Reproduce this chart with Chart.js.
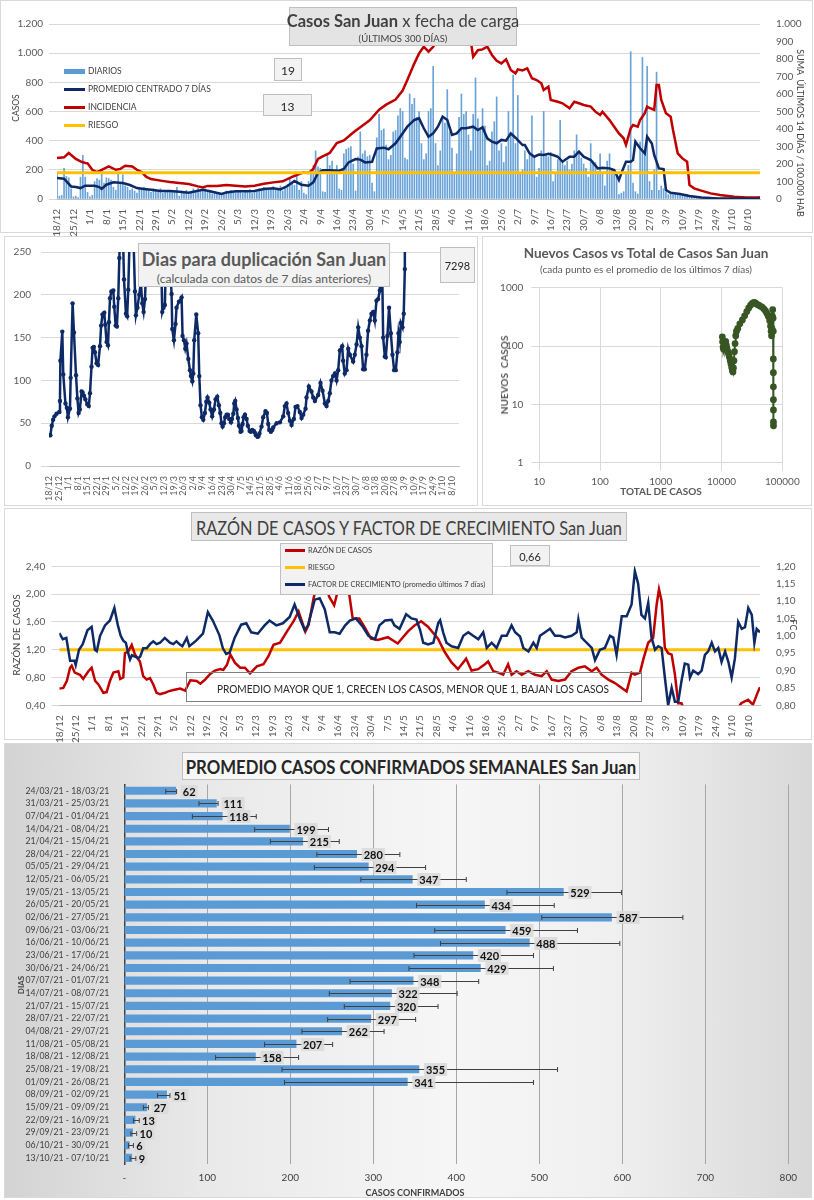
<!DOCTYPE html>
<html lang="es">
<head>
<meta charset="utf-8">
<title>Casos San Juan</title>
<script src="https://cdn.jsdelivr.net/npm/chart.js@4.4.1/dist/chart.umd.min.js"></script>
<style>
  html, body { margin: 0; padding: 0; background: #fff; }
  body { width: 814px; height: 1200px; position: relative; overflow: hidden; font-family: Lato, "Open Sans", sans-serif; color: #404040; }
  .marco { position: absolute; border: 1px solid #d9d9d9; box-sizing: border-box; }
  .lienzo { position: absolute; }
  .txt { position: absolute; white-space: nowrap; transform: translate(-50%, -50%); }
  .caja { position: absolute; box-sizing: border-box; border: 1px solid #bfbfbf; background: #f2f2f2; }
  .arriba { position: absolute; white-space: nowrap; writing-mode: vertical-rl; transform: translate(-50%, -50%) rotate(180deg); }
  .abajo { position: absolute; white-space: nowrap; writing-mode: vertical-rl; transform: translate(-50%, -50%); }
  .ley { position: absolute; white-space: nowrap; display: flex; align-items: center; }
  .ley i { display: inline-block; margin-right: 3px; }
</style>
</head>
<body>

<!-- marcos -->
<div class="marco" style="left:0;top:0;width:813px;height:233px"></div>
<div class="marco" style="left:4px;top:236px;width:474px;height:270px"></div>
<div class="marco" style="left:482px;top:236px;width:330px;height:270px"></div>
<div class="marco" style="left:4px;top:508px;width:808px;height:232px"></div>
<div class="marco" style="left:4px;top:743px;width:808px;height:455px;background:linear-gradient(90deg,#d3d3d3 0%,#e9e9e9 25%,#f6f6f6 55%,#f0f0f0 75%,#d8d8d8 100%)"></div>

<div class="lienzo" style="left:0;top:0;width:814px;height:242px"><canvas id="casos"></canvas></div>
<div class="lienzo" style="left:4px;top:236px;width:474px;height:276px"><canvas id="duplicacion"></canvas></div>
<div class="lienzo" style="left:482px;top:236px;width:330px;height:270px"><canvas id="nuevos"></canvas></div>
<div class="lienzo" style="left:4px;top:508px;width:808px;height:240px"><canvas id="razon"></canvas></div>
<div class="lienzo" style="left:4px;top:743px;width:808px;height:455px"><canvas id="semanal"></canvas></div>

<!-- grafico 1 -->
<div class="caja" style="left:289px;top:7px;width:228px;height:39px;background:#e4e4e4"></div>
<div class="txt" style="left:403px;top:21px;font-size:16.5px;color:#404040"><b>Casos San Juan</b> x fecha de carga</div>
<div class="txt" style="left:403px;top:38px;font-size:9.5px;color:#404040">(ÚLTIMOS 300 DÍAS)</div>
<div class="caja" style="left:274px;top:58px;width:28px;height:23px"></div>
<div class="txt" style="left:288px;top:70px;font-size:12px;color:#262626">19</div>
<div class="caja" style="left:263px;top:94px;width:49px;height:22px"></div>
<div class="txt" style="left:287.5px;top:105.5px;font-size:12px;color:#262626">13</div>
<div class="ley" style="left:64px;top:66px;font-size:8.5px"><i style="width:21px;height:5px;background:#5b9bd5"></i>DIARIOS</div>
<div class="ley" style="left:64px;top:84px;font-size:8.5px"><i style="width:21px;height:3px;background:#0e2a66"></i>PROMEDIO CENTRADO 7 DÍAS</div>
<div class="ley" style="left:64px;top:102px;font-size:8.5px"><i style="width:21px;height:3px;background:#c00000"></i>INCIDENCIA</div>
<div class="ley" style="left:64px;top:120px;font-size:8.5px"><i style="width:21px;height:3px;background:#ffc000"></i>RIESGO</div>
<div class="arriba" style="left:16px;top:108px;font-size:8.5px">CASOS</div>
<div class="abajo" style="left:800px;top:133px;font-size:9px">SUMA&nbsp; ÚLTIMOS 14 DÍAS / 100.000 HAB</div>

<!-- grafico 2 -->
<div class="caja" style="left:138px;top:243px;width:252px;height:44px"></div>
<div class="txt" style="left:264px;top:259px;font-size:18px;font-weight:bold;color:#595959">Dias para duplicación San Juan</div>
<div class="txt" style="left:264px;top:278px;font-size:12px;color:#595959">(calculada con datos de 7 días anteriores)</div>
<div class="caja" style="left:440px;top:247px;width:35px;height:36px"></div>
<div class="txt" style="left:457.5px;top:265px;font-size:11px;color:#262626">7298</div>

<!-- grafico 3 -->
<div class="txt" style="left:646px;top:253px;font-size:13.5px;font-weight:bold;color:#595959">Nuevos Casos vs Total de Casos San Juan</div>
<div class="txt" style="left:646px;top:269px;font-size:10px;color:#595959">(cada punto es el promedio de los últimos 7 días)</div>
<div class="arriba" style="left:504px;top:375px;font-size:10px;font-weight:bold;color:#595959">NUEVOS&nbsp; CASOS</div>
<div class="txt" style="left:661px;top:491px;font-size:10px;font-weight:bold;color:#595959">TOTAL DE CASOS</div>

<!-- grafico 4 -->
<div class="caja" style="left:191px;top:512px;width:436px;height:29px;background:#e8e8e8"></div>
<div class="txt" style="left:409px;top:527px;font-size:19px;color:#404040;transform:translate(-50%,-50%) scaleX(0.86)">RAZÓN DE CASOS Y FACTOR DE CRECIMIENTO San Juan</div>
<div class="caja" style="left:280px;top:543px;width:213px;height:52px"></div>
<div class="ley" style="left:285px;top:546px;font-size:7.5px"><i style="width:20px;height:3px;background:#c00000"></i>RAZÓN DE CASOS</div>
<div class="ley" style="left:285px;top:563px;font-size:7.5px"><i style="width:20px;height:3px;background:#ffc000"></i>RIESGO</div>
<div class="ley" style="left:285px;top:580px;font-size:7.5px"><i style="width:20px;height:3px;background:#0e2a66"></i>FACTOR DE CRECIMIENTO (promedio últimos 7 días)</div>
<div class="caja" style="left:510px;top:545px;width:40px;height:21px"></div>
<div class="txt" style="left:530px;top:555.5px;font-size:11px;color:#262626">0,66</div>
<div class="caja" style="left:186px;top:672px;width:456px;height:30px;background:transparent;border-color:#7f7f7f"></div>
<div class="txt" style="left:413px;top:688px;font-size:12px;color:#262626;transform:translate(-50%,-50%) scaleX(0.84)">PROMEDIO MAYOR QUE 1, CRECEN LOS CASOS, MENOR QUE 1, BAJAN LOS CASOS</div>
<div class="arriba" style="left:16px;top:635px;font-size:9.5px">RAZÓN DE CASOS</div>
<div class="abajo" style="left:793px;top:625px;font-size:9px">FC</div>

<!-- grafico 5 -->
<div class="caja" style="left:182px;top:752px;width:458px;height:28px;background:#f7f7f7"></div>
<div class="txt" style="left:411px;top:766.5px;font-size:18px;font-weight:bold;color:#262626;transform:translate(-50%,-50%) scaleX(0.93)">PROMEDIO CASOS CONFIRMADOS SEMANALES San Juan</div>
<div class="arriba" style="left:21px;top:985px;font-size:8px;font-weight:bold">DIAS</div>
<div class="txt" style="left:415px;top:1192px;font-size:9px;font-weight:bold">CASOS CONFIRMADOS</div>

<script>
// ---- datos ----
// eje de fechas: dia 0 = 18/12/2020, una etiqueta cada 7 dias
const fechaTicks = ['18/12','25/12','1/1','8/1','15/1','22/1','29/1','5/2','12/2','19/2','26/2','5/3','12/3','19/3','26/3','2/4','9/4','16/4','23/4','30/4','7/5','14/5','21/5','28/5','4/6','11/6','18/6','25/6','2/7','9/7','16/7','23/7','30/7','6/8','13/8','20/8','27/8','3/9','10/9','17/9','24/9','1/10','8/10'];

// casos diarios (un valor por dia, 300 dias)
const diarios = [
  170,20,25,210,155,145,70, 15,20,10,150,300,150,45, 15,25,120,140,130,200,110, 145,140,130,80,60,175,110,
  165,90,80,60,70,55,40, 75,60,80,70,55,45,70, 65,50,70,40,60,55,45, 50,45,80,20,55,40,60,
  30,45,70,50,75,60,55, 70,45,60,35,50,40,45, 30,35,55,40,60,45,50, 55,60,40,45,50,65,40,
  55,45,70,60,80,75,65, 70,85,60,75,90,55,80, 100,140,110,95,170,60,120, 40,30,120,170,230,330,220,
  210,50,45,300,230,260,170, 230,70,60,310,340,350,360, 240,55,290,460,310,330,290, 300,110,50,420,580,470,480,
  370,270,300,460,470,570,620, 600,280,270,720,650,690,560, 600,380,270,310,600,620,910, 380,230,330,560,520,750,460,
  350,170,310,560,720,580,600, 440,330,580,830,550,470,620, 500,230,260,460,530,700,330, 380,250,360,600,430,850,380,
  710,180,200,330,270,300,570, 280,150,210,330,600,300,290, 320,120,180,270,540,250,230, 260,200,240,330,440,310,280,
  240,210,150,380,260,250,190, 310,170,90,260,310,210,170, 170,30,40,50,180,230,1010, 110,50,35,390,970,310,910,
  120,60,200,870,60,90,70, 50,30,40,30,35,25,30, 25,20,30,15,20,18,12, 10,15,8,12,14,10,9,
  7,10,6,9,8,5,7, 5,8,6,4,7,5,6, 9,6,12,8,10,9
];

// promedio centrado 7 dias (dia, casos)
const promDias = [0,3,6,8,10,12,14,16,18,19, 21,24,28,31,34,37,40,44,48,52, 56,60,62,66,70,72,76,80,84,88,
  92,95,98,101,104,107,109,111,113,116, 120,122,124,127,129,131,134,136,139,141, 144,146,149,152,154,156,158,160,162,164,
  166,168,170,172,174,177,179,181,183,185, 187,189,191,193,195,198,199,201,203,205, 207,209,211,213,215,218,220,222,224,227,
  230,232,235,237,239,240,242,244,245,246, 248,250,251,253,254,256,258,259,261,265, 269,274,281,290,299];
const promedio = [144,139,86,82,75,91,91,91,82,69, 98,114,110,96,75,69,64,55,55,50, 43,57,64,50,34,45,53,53,55,69,
  73,66,89,123,98,91,114,178,197,197, 194,206,251,274,270,251,255,347,352,341, 382,427,496,542,553,485,427,450,496,565,
  542,439,450,485,485,496,473,492,416,393, 382,405,400,450,420,370,370,313,290,305, 302,310,302,290,256,290,290,325,290,267,
  210,215,210,199,130,176,256,256,267,393, 348,313,427,380,302,210,205,62,43,34, 21,10,4,3,2];

// incidencia: suma 14 dias / 100.000 hab (dia, valor)
const incDias = [0,3,5,8,10,12,13,15,17,19, 22,25,27,29,32,34,36,38,40,44, 48,52,56,60,62,64,68,72,76,80,
  84,88,92,96,100,103,105,107,109,111, 113,116,119,122,126,130,133,137,140,144, 147,149,152,154,156,158,160,162,164,166,
  168,170,172,174,176,177,179,181,183,185, 187,189,191,193,195,196,198,200,202,204, 206,207,209,210,213,215,218,220,222,224,
  227,229,231,232,235,237,239,241,242,244, 245,247,248,250,251,252,254,255,256,257, 259,261,262,264,266,268,269,271,274,278,
  282,288,293,298,299];
const incidencia = [234,238,263,229,215,206,204,167,154,167, 186,167,172,190,186,167,154,126,114,105, 97,91,86,72,66,75,75,80,76,72,
  76,87,95,101,126,143,152,149,171,229, 244,263,320,335,380,420,450,510,539,568, 620,680,775,832,870,842,870,918,980,1000,
  940,890,920,960,900,813,850,855,870,823, 790,775,798,737,718,741,735,747,690,680, 661,623,642,566,556,547,518,556,547,537,
  528,499,480,499,451,413,375,347,309,404, 423,413,451,490,528,520,509,651,651,566, 490,470,394,261,232,213,80,61,48,32,
  23,13,8,8,10];
const riesgoIncidencia = 150;

// dias para duplicacion (dia, dias)
const dupDias = [0,1,2,3,4,5.5,7.5,8,8.3,9.7, 10.4,12,13,13.8,15.3,15.8,17.2,18.2,19.7,20.7, 21.6,22.5,23.8,24.5,25.5,26.5,27.9,29,29.9,31,
  31.8,32.7,33.5,34.7,35.8,37.2,38,39,40.3,41, 42,43,43.7,44.5,45.5,46.9,47.6,48.6,49.5,50.5, 51.3,52.2,53.2,54.7,56.1,57,57.8,59,60,61,
  62.7,63.4,64.5,65.8,67,68,69,70,71,73, 76,79,81,82.6,83.5,84.5,85.5,87,89.4,89.9, 91.1,92.3,93,94.8,96.7,97.4,98.4,99.4,100.3,101.6,
  102.8,103.5,104.5,105.2,105.9,107.4,108.8,109.6,110.5,111.5, 112.5,113.7,114.7,115.6,116.9,117.8,119,120.3,121.5,122.7,
  123.9,124.9,125.8,126.6,127.6,128.5,129.5,130.5,131.4,132.7, 133.4,134.4,135.1,135.8,136.8,137.8,138.5,139.7,140.4,141.2,
  141.9,142.9,144.1,145,146.3,147.2,148.2,149.4,150.1,150.9, 152.1,152.8,153.5,155,156.2,157.9,158.9,159.9,160.6,161.8,
  162.8,163.5,166,168.4,170.8,172,173.2,174.4,175.7,176.9, 178.6,179.8,181.2,182.9,184.2,185.4,187.1,187.8,189.5,191.4,
  192.7,193.9,196.3,198,199.5,201.2,202.4,203.6,204.8,206, 207.2,208.5,209.7,210.9,212.1,213.8,214.5,215.7,217,218.2,
  219.4,221.8,223,224.3,225.5,226.7,227.9,229.1,230.3,231.5, 232.7,234,235.2,236.4,237.6,238.8,240,241.3,242,242.6,
  243.7,244.9,245.6,246.8,248,249.3,250.5,251.7,252.9,254.1, 254.9,255.8,256.6,257.8,258.7,259.5,260.2];
const duplicacion = [36,36,47,54,58,61,63,76,123,157, 107,73,68,57,67,103,190,156,106,79, 62,66,87,86,82,78,72,70,85,116,
  138,139,133,120,118,140,164,177,179,165, 145,141,168,196,204,205,186,164,163,196, 243,290,320,218,178,175,206,280,340,300,
  204,176,185,200,215,190,180,195,240,300, 380,420,300,180,185,188,260,280,201,160, 147,166,185,192,197,152,147,137,143,125,
  112,105,99,108,147,177,155,105,71,57, 54,62,75,80,74,66,58,66,78,81,
  71,62,50,46,50,57,60,60,55,51, 55,61,73,76,66,56,47,40,41,49,
  57,60,55,47,41,40,42,41,39,36, 34,35,38,46,57,64,62,49,42,40,
  42,45,50,51,58,70,73,62,53,48, 55,69,70,63,56,60,67,80,93,87,
  80,76,83,97,88,73,70,76,85,100, 105,108,100,112,135,140,123,108,112,137,
  130,122,130,142,162,150,140,113,113,130, 158,170,178,180,170,193,195,205,290,270,
  150,128,127,152,185,155,130,112,112,133, 155,145,167,162,178,230,7298];

// nuevos casos vs total (promedio 7 dias)
const totalCasos = [10300,10400,10600,10800,11100,11400,11700,12000,12300,12700, 13100,13500,13900,14300,14700,15100,15400,15700,16000,16300,
  16700,17100,17600,18500,20000,22000,24000,26000,28000,30000, 32000,34000,36000,38000,41000,44000,47000,50000,53000,56000,
  59000,62000,64000,65500,66500,67500,68500,69500,70500,71000, 71200,71300,71400,71450,71500,71550,71600];
const nuevosCasos = [144,118,96,88,100,112,120,104,90,80, 72,64,56,49,43,38,36,42,56,80,
  110,150,180,200,240,280,330,390,450,500, 540,560,550,520,500,480,460,430,400,360,
  320,270,220,180,150,200,330,420,300,180, 60,35,20,12,8,5,4.3];

// razon de casos (dia, razon)
const razonDias = [0,1.7,3.2,4.6,5.3,6.6,8.8,10.2,12.4,13.8, 15.3,16.7,18.8,20.2,21.6,23.1,25.2,26,27.3,28,
  29.5,30.9,32.3,34.4,35.8,37.3,38.7,40.1,41.5,43, 45.1,46.5,48.7,51.6,53.7,55.9,58.6,60.2,62.2,64.4,
  66.4,68.7,70,71.5,73,75,77.2,79.2,81.4,84.3, 87.1,89.3,91.4,94.2,97.1,100,102.1,105,106.4,108.5,
  110,112,114,115.2,117.3,118.5,120,121.6,123.7,125.2, 128,130.2,133,135.9,140.2,144.4,148.7,151.6,154.4,157.3,
  161.6,164.4,167.3,170.1,173.6,175.9,178.7,181.6,183,185.2, 187.3,189.4,191.5,193,195.1,197.3,200.1,203,205.8,208,
  210.1,212.9,215.8,218.6,221.5,224.3,227.2,229.3,231.4,234.3, 237.1,240,242.1,244.2,245.6,247.8,249.2,251.3,253.4,254.9,
  255.9,257,258.4,259.8,261.3,262.7,264.1,265.5,267,275, 285,290,291,293.9,296,298.2,299];
const razon = [0.64,0.65,0.75,0.94,0.97,0.87,0.84,0.78,0.89,0.94, 0.75,0.70,0.58,0.59,0.75,0.87,0.89,0.78,0.80,1.15,
  1.18,1.27,1.13,1.03,0.82,0.77,0.79,0.70,0.58,0.56, 0.58,0.60,0.62,0.64,0.61,0.76,0.75,0.71,0.77,0.85,
  0.90,0.92,0.91,0.98,1.13,1.01,0.94,0.94,0.86,0.96, 0.99,1.11,1.27,1.30,1.46,1.61,1.75,1.46,1.56,1.94,
  2.15,2.35,2.10,1.96,1.84,2.00,2.30,2.10,2.00,1.65, 1.65,1.53,1.36,1.34,1.38,1.29,1.46,1.55,1.61,1.53,
  1.36,1.17,1.02,0.92,1.07,0.90,0.92,0.99,1.03,0.89, 0.87,0.84,0.99,0.84,0.89,0.84,0.89,0.84,0.82,0.89,
  0.77,0.75,0.77,0.89,0.94,0.96,0.89,0.94,0.84,0.77, 0.72,0.65,0.60,0.87,0.84,0.87,1.06,1.30,1.37,1.85,
  2.07,1.90,1.23,1.15,1.13,0.84,0.43,0.43,0.30,0.25, 0.28,0.38,0.43,0.48,0.41,0.60,0.66];
const riesgoRazon = 1.2;

// factor de crecimiento, promedio ultimos 7 dias (dia, FC)
const fcDias = [0,1.5,3,4.6,6.5,7,8.4,10,12,13.8, 15.2,16,17.4,19.5,21.6,23.5,25,26.2,27.3,28.4,
  29.4,30.2,31,32.3,33.7,34.5,35.8,37.3,38.7,40.1, 41.5,43,45,47.2,48.6,50,51.6,52.5,54.4,55.5,
  58.4,61.3,63.4,65.5,68.3,69.8,71.2,72.7,74.8,77.6, 79.8,81.9,84.7,87.6,89.7,92.6,95.4,98.3,100.4,102.6,
  104.7,106.1,107.6,109,111.1,113.3,115.4,117.5,119.6,122, 124,126.6,129.5,131.9,134.7,136.6,139,141.8,143,145.2,
  148,150.3,152.4,153.9,155.3,157.4,159.6,161.7,162.5,163.8, 165.2,167.4,170.2,172.4,174.5,176.6,178.8,180.9,182.4,184.5,
  186.6,188.8,190.9,193,194.5,196.6,198,200.2,202.3,203.7, 205.1,207.3,209.4,211.5,213.7,215.8,218.6,220.8,221.5,222.9,
  225,227.2,228.6,230.7,232.8,235,236.4,237.8,240,242.1, 244.2,245.6,247,248.4,249.9,251.3,252.7,254.2,255.6,257,
  258.4,259.8,261.3,262.7,264.1,265.5,266.9,268.4,269.1,270.5, 272.6,274.1,275.5,276.9,278.4,279.8,281.2,282.6,284.1,285.5,
  286.9,288.3,289.7,291.2,292.6,294,295.5,296.6,297.6,299];
const fc = [1.008,0.99,0.994,0.928,0.928,0.916,0.96,0.976,1.016,1.026, 0.96,0.956,1.0,1.03,1.044,1.08,1.03,1.0,0.986,0.98,
  0.95,0.932,0.944,0.94,0.936,0.94,0.964,0.964,0.976,0.984, 0.976,0.98,0.994,0.98,0.976,0.984,0.974,0.97,0.994,0.97,
  0.986,1.006,1.068,1.044,1.002,0.964,0.948,0.952,0.994,1.032, 1.036,1.01,1.006,1.03,1.044,1.03,1.036,1.054,1.09,1.05,
  1.016,1.03,1.068,1.104,1.108,1.076,1.01,1.01,1.006,1.03, 1.044,1.05,1.026,1.0,0.99,1.03,1.044,1.046,1.03,1.02,
  1.062,1.05,1.047,1.018,0.98,0.975,0.98,1.037,1.045,1.01, 0.98,0.97,0.965,1.0,1.01,1.0,0.99,1.01,0.965,0.98,
  0.965,1.0,1.0,1.03,1.01,0.998,0.965,0.955,0.98,0.965, 1.0,1.01,1.02,1.0,1.0,0.995,1.0,1.01,1.047,0.995,
  0.98,0.965,0.93,0.96,0.965,1.0,0.995,0.945,1.056,1.056, 1.09,1.186,1.15,1.06,1.05,1.095,0.995,0.96,0.97,0.965,
  0.88,0.80,0.85,0.81,0.81,0.87,0.92,0.917,0.88,0.90, 0.89,0.90,0.945,0.955,0.98,0.955,0.965,0.925,0.955,0.925,
  0.88,0.935,1.04,1.02,1.025,1.08,1.06,0.98,1.02,1.01];

// promedio semanal de casos confirmados
const semanas = ['24/03/21 - 18/03/21','31/03/21 - 25/03/21','07/04/21 - 01/04/21','14/04/21 - 08/04/21','21/04/21 - 15/04/21',
  '28/04/21 - 22/04/21','05/05/21 - 29/04/21','12/05/21 - 06/05/21','19/05/21 - 13/05/21','26/05/21 - 20/05/21',
  '02/06/21 - 27/05/21','09/06/21 - 03/06/21','16/06/21 - 10/06/21','23/06/21 - 17/06/21','30/06/21 - 24/06/21',
  '07/07/21 - 01/07/21','14/07/21 - 08/07/21','21/07/21 - 15/07/21','28/07/21 - 22/07/21','04/08/21 - 29/07/21',
  '11/08/21 - 05/08/21','18/08/21 - 12/08/21','25/08/21 - 19/08/21','01/09/21 - 26/08/21','08/09/21 - 02/09/21',
  '15/09/21 - 09/09/21','22/09/21 - 16/09/21','29/09/21 - 23/09/21','06/10/21 - 30/09/21','13/10/21 - 07/10/21'];
const promSemanal = [62,111,118,199,215,280,294,347,529,434,587,459,488,420,429,348,322,320,297,262,207,158,355,341,51,27,13,10,6,9];
const minSemanal = [50,90,82,157,176,232,229,285,461,352,503,374,381,349,343,272,247,265,245,214,169,110,190,193,40,23,11,8,5,7];
const maxSemanal = [63,113,159,246,259,332,363,412,599,518,673,546,597,493,517,427,401,378,351,313,251,210,522,493,55,29,18,15,11,14];

// ---- ayudas ----
Chart.defaults.font.family = "Lato, 'Open Sans', sans-serif";
Chart.defaults.color = '#595959';
Chart.defaults.animation = false;
Chart.defaults.plugins.legend.display = false;
Chart.defaults.plugins.tooltip.enabled = false;

const pares = (xs, ys) => xs.map((x, i) => ({ x: x, y: ys[i] }));
const miles = v => String(v).replace(/\B(?=(\d{3})+(?!\d))/g, '.');
const coma = v => v.toFixed(2).replace('.', ',');
const valores = (desde, hasta, paso) => {
  const out = [];
  for (let v = desde; v <= hasta + 1e-9; v += paso) out.push({ value: Math.round(v * 1000) / 1000 });
  return out;
};

function ejeFechas(alto, tam) {
  return {
    type: 'linear', min: 0, max: 299, offset: false,
    grid: { display: false, offset: false },
    border: { color: '#bfbfbf' },
    afterBuildTicks: s => { s.ticks = fechaTicks.map((t, i) => ({ value: i * 7 })); },
    ticks: { autoSkip: false, minRotation: 90, maxRotation: 90, padding: 2, font: { size: tam },
      callback: v => fechaTicks[Math.round(v / 7)] },
    afterFit: s => { s.height = alto; }
  };
}

// ---- 1: casos x fecha de carga ----
new Chart(document.getElementById('casos'), {
  type: 'line',
  data: {
    datasets: [
      { label: 'RIESGO', data: [{ x: 0, y: riesgoIncidencia }, { x: 299, y: riesgoIncidencia }], yAxisID: 'y1',
        borderColor: '#ffc000', borderWidth: 3, pointRadius: 0, order: 0 },
      { label: 'PROMEDIO CENTRADO 7 DÍAS', data: pares(promDias, promedio), yAxisID: 'y',
        borderColor: '#0e2a66', borderWidth: 2.5, pointRadius: 0, order: 1 },
      { label: 'INCIDENCIA', data: pares(incDias, incidencia), yAxisID: 'y1',
        borderColor: '#c00000', borderWidth: 2.5, pointRadius: 0, order: 2 },
      { type: 'bar', label: 'DIARIOS', data: diarios.map((v, i) => ({ x: i, y: v })), yAxisID: 'y',
        backgroundColor: '#6aa3d8', barThickness: 1, order: 3 }
    ]
  },
  options: {
    responsive: true, maintainAspectRatio: false,
    layout: { padding: { top: 24, left: 0, right: 0, bottom: 0 } },
    scales: {
      x: ejeFechas(43, 10),
      y: { position: 'left', min: 0, max: 1200,
        afterBuildTicks: s => { s.ticks = valores(0, 1200, 200); },
        grid: { color: '#d9d9d9' }, border: { display: false },
        ticks: { font: { size: 10 }, padding: 6, callback: miles },
        afterFit: s => { s.width = 57; } },
      y1: { position: 'right', min: 0, max: 1000,
        afterBuildTicks: s => { s.ticks = valores(0, 1000, 100); },
        grid: { display: false }, border: { display: false },
        ticks: { font: { size: 10 }, padding: 8, callback: miles },
        afterFit: s => { s.width = 54; } }
    }
  }
});

// ---- 2: dias para duplicacion ----
new Chart(document.getElementById('duplicacion'), {
  type: 'line',
  data: {
    datasets: [{ data: pares(dupDias, duplicacion), borderColor: '#0e2a66', backgroundColor: '#0e2a66',
      borderWidth: 2.5, pointRadius: 2.2, pointBorderWidth: 0 }]
  },
  options: {
    responsive: true, maintainAspectRatio: false,
    layout: { padding: { top: 10, left: 0, right: 19, bottom: 0 } },
    scales: {
      x: ejeFechas(46, 9),
      y: { min: 0, max: 250,
        afterBuildTicks: s => { s.ticks = valores(0, 250, 50); },
        grid: { color: '#d9d9d9' }, border: { display: false },
        ticks: { font: { size: 10 }, padding: 10 },
        afterFit: s => { s.width = 45; } }
    }
  }
});

// ---- 3: nuevos casos vs total ----
new Chart(document.getElementById('nuevos'), {
  type: 'scatter',
  data: {
    datasets: [{ data: pares(totalCasos, nuevosCasos), showLine: true, borderColor: '#375623',
      backgroundColor: '#375623', borderWidth: 2, pointRadius: 3.4, pointBorderWidth: 0 }]
  },
  options: {
    responsive: true, maintainAspectRatio: false,
    layout: { padding: { top: 51.7, left: 0, right: 29.7, bottom: 0 } },
    scales: {
      x: { type: 'logarithmic', min: 10, max: 100000,
        afterBuildTicks: s => { s.ticks = [10, 100, 1000, 10000, 100000].map(v => ({ value: v })); },
        grid: { color: '#d9d9d9' }, border: { color: '#d9d9d9' },
        ticks: { font: { size: 10 }, padding: 5, callback: v => String(v), maxRotation: 0 },
        afterFit: s => { s.height = 43.3; } },
      y: { type: 'logarithmic', min: 1, max: 1000,
        afterBuildTicks: s => { s.ticks = [1, 10, 100, 1000].map(v => ({ value: v })); },
        grid: { color: '#d9d9d9' }, border: { color: '#d9d9d9' },
        ticks: { font: { size: 10 }, padding: 8, callback: v => String(v) },
        afterFit: s => { s.width = 57.3; } }
    }
  }
});

// ---- 4: razon de casos y factor de crecimiento ----
new Chart(document.getElementById('razon'), {
  type: 'line',
  data: {
    datasets: [
      { label: 'FACTOR DE CRECIMIENTO (promedio últimos 7 días)', data: pares(fcDias, fc), yAxisID: 'y1',
        borderColor: '#0e2a66', borderWidth: 2.5, pointRadius: 0, order: 0 },
      { label: 'RAZÓN DE CASOS', data: pares(razonDias, razon), yAxisID: 'y',
        borderColor: '#c00000', borderWidth: 2.5, pointRadius: 0, order: 1 },
      { label: 'RIESGO', data: [{ x: 0, y: riesgoRazon }, { x: 299, y: riesgoRazon }], yAxisID: 'y',
        borderColor: '#ffc000', borderWidth: 3, pointRadius: 0, order: 2 }
    ]
  },
  options: {
    responsive: true, maintainAspectRatio: false,
    layout: { padding: { top: 58.3, left: 0, right: 0, bottom: 0 } },
    scales: {
      x: ejeFechas(42.7, 10),
      y: { position: 'left', min: 0.4, max: 2.4,
        afterBuildTicks: s => { s.ticks = valores(0.4, 2.4, 0.2); },
        grid: { color: '#d9d9d9' }, border: { display: false },
        ticks: { font: { size: 10 }, padding: 6, callback: coma },
        afterFit: s => { s.width = 55.3; } },
      y1: { position: 'right', min: 0.8, max: 1.2,
        afterBuildTicks: s => { s.ticks = valores(0.8, 1.2, 0.05); },
        grid: { display: false }, border: { display: false },
        ticks: { font: { size: 10 }, padding: 8, callback: coma },
        afterFit: s => { s.width = 52; } }
    }
  }
});

// ---- 5: promedio semanal con barras de error y etiquetas ----
const barrasError = {
  id: 'barrasError',
  afterDatasetsDraw(chart) {
    const { ctx, scales: { x, y } } = chart;
    ctx.save();
    promSemanal.forEach((v, i) => {
      const yc = Math.round(y.getPixelForValue(i)) + 0.5;
      const x1 = x.getPixelForValue(minSemanal[i]);
      const x2 = x.getPixelForValue(maxSemanal[i]);
      ctx.strokeStyle = '#404040';
      ctx.lineWidth = 1;
      ctx.beginPath();
      ctx.moveTo(x1, yc); ctx.lineTo(x2, yc);
      ctx.moveTo(x1, yc - 2.5); ctx.lineTo(x1, yc + 2.5);
      ctx.moveTo(x2, yc - 2.5); ctx.lineTo(x2, yc + 2.5);
      ctx.stroke();
      const texto = String(v);
      ctx.font = "bold 11px Lato, 'Open Sans', sans-serif";
      const w = ctx.measureText(texto).width;
      const xe = x.getPixelForValue(v) + 7;
      ctx.fillStyle = 'rgba(218,218,218,0.9)';
      ctx.fillRect(xe - 2, yc - 6.5, w + 4, 13);
      ctx.fillStyle = '#111';
      ctx.textBaseline = 'middle';
      ctx.fillText(texto, xe, yc + 0.5);
    });
    ctx.restore();
  }
};

new Chart(document.getElementById('semanal'), {
  type: 'bar',
  data: {
    labels: semanas,
    datasets: [{ data: promSemanal, backgroundColor: '#5b9bd5', barThickness: 7.5 }]
  },
  options: {
    indexAxis: 'y',
    responsive: true, maintainAspectRatio: false,
    layout: { padding: { top: 41.4, left: 0, right: 23.7, bottom: 0 } },
    scales: {
      x: { min: 0, max: 800,
        afterBuildTicks: s => { s.ticks = valores(0, 800, 100); },
        grid: { color: '#a6a6a6', drawTicks: false }, border: { display: false },
        ticks: { font: { size: 10 }, color: '#404040', padding: 8, callback: v => (v === 0 ? '-' : String(v)) },
        afterFit: s => { s.height = 33.8; } },
      y: { grid: { display: false }, border: { color: '#404040', width: 1.5 },
        ticks: { autoSkip: false, font: { size: 8.7 }, color: '#404040', padding: 7 },
        afterFit: s => { s.width = 120.3; } }
    }
  },
  plugins: [barrasError]
});
</script>
</body>
</html>
